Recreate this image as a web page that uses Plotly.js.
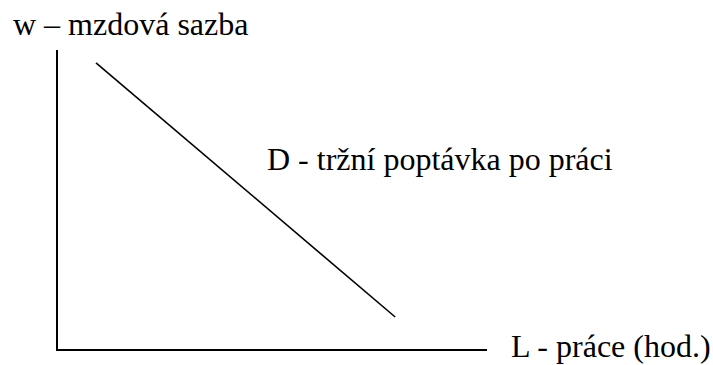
<!DOCTYPE html>
<html>
<head>
<meta charset="utf-8">
<script src="https://cdn.plot.ly/plotly-3.0.1.min.js"></script>
<style>html,body{margin:0;padding:0;background:#fff;}#chart{width:713px;height:365px;}</style>
</head>
<body>
<div id="chart"></div>
<script>
// Demand curve endpoints (L, w)
const demandL = [0.886, 7.86];
const demandW = [9.57, 1.07];
const yLabel = "w – mzdová sazba";
const xLabel = "L - práce (hod.)";
const demandLabel = "D - tržní poptávka po práci";

const font = {family: "Liberation Serif", size: 32, color: "#000"};

const data = [{
  x: demandL, y: demandW, type: "scatter", mode: "lines",
  line: {color: "#000", width: 1.6}, hoverinfo: "skip", showlegend: false
}];

const layout = {
  width: 713, height: 365,
  margin: {l: 58, r: 226, t: 50, b: 16, pad: 0},
  paper_bgcolor: "#fff", plot_bgcolor: "#fff",
  showlegend: false,
  xaxis: {range: [0, 10], showline: true, linecolor: "#000", linewidth: 2, showgrid: false, zeroline: false, showticklabels: false, ticks: "", fixedrange: true},
  yaxis: {range: [0, 10], showline: true, linecolor: "#000", linewidth: 2, showgrid: false, zeroline: false, showticklabels: false, ticks: "", fixedrange: true},
  annotations: [
    {text: yLabel, xref: "paper", yref: "paper", x: -0.1107, y: 1.0863, xanchor: "left", yanchor: "middle", showarrow: false, font: font},
    {text: demandLabel, xref: "paper", yref: "paper", x: 0.4825, y: 0.6348, xanchor: "left", yanchor: "middle", showarrow: false, font: font},
    {text: xLabel, xref: "paper", yref: "paper", x: 1.0513, y: 0.0104, xanchor: "left", yanchor: "middle", showarrow: false, font: font}
  ]
};

Plotly.newPlot("chart", data, layout, {displayModeBar: false, staticPlot: true});
</script>
</body>
</html>
